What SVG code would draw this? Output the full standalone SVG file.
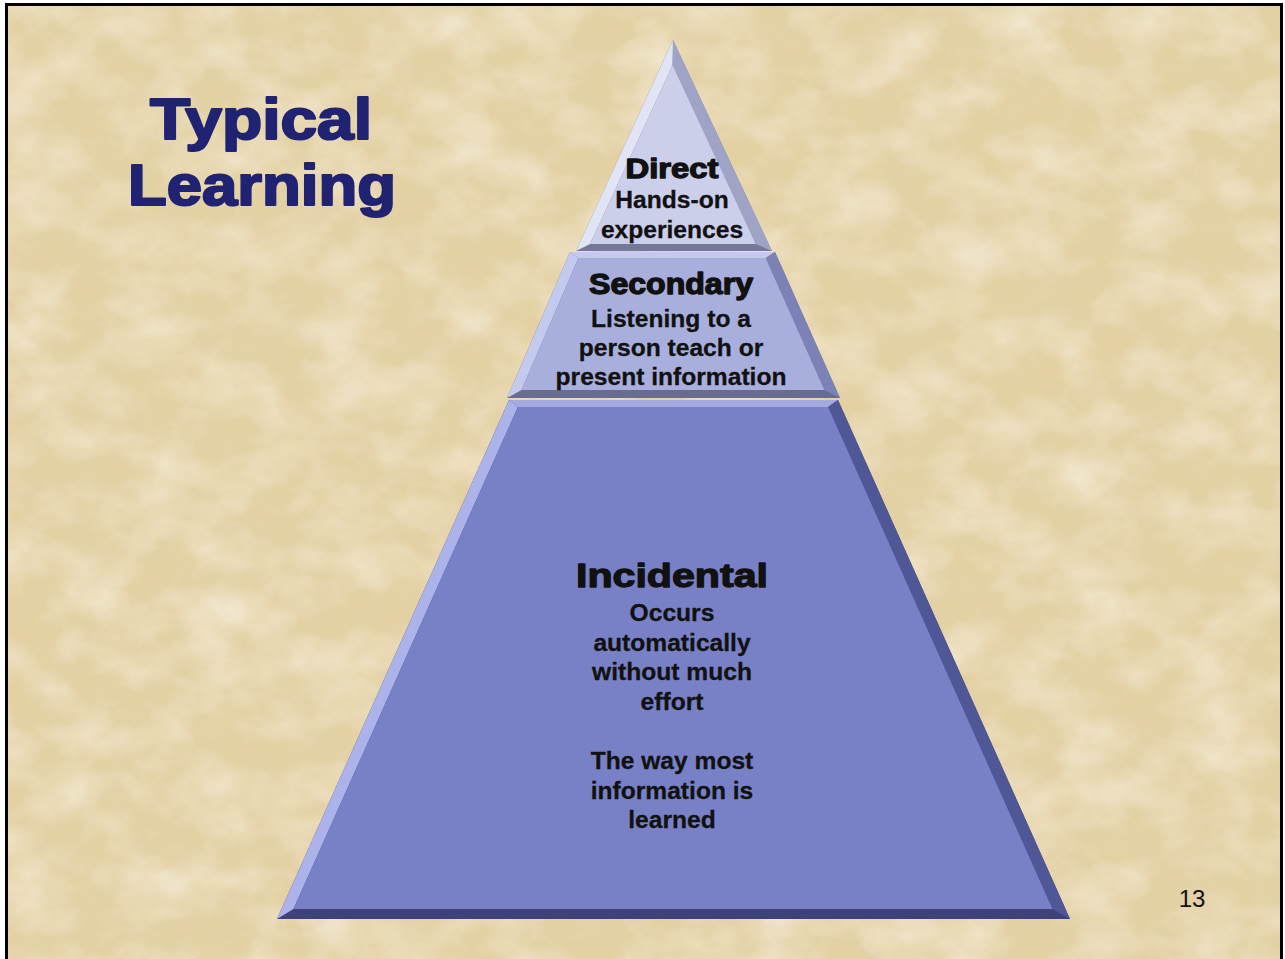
<svg xmlns="http://www.w3.org/2000/svg" width="1285" height="959" viewBox="0 0 1285 959">
<defs>
<filter id="paperLight" x="0" y="0" width="100%" height="100%">
<feTurbulence type="fractalNoise" baseFrequency="0.016 0.022" numOctaves="4" seed="7"/>
<feColorMatrix type="matrix" values="0 0 0 0 0.96  0 0 0 0 0.92  0 0 0 0 0.82  1.5 0 0 0 -0.55"/>
</filter>
<filter id="paperDark" x="0" y="0" width="100%" height="100%">
<feTurbulence type="fractalNoise" baseFrequency="0.04 0.05" numOctaves="3" seed="21"/>
<feColorMatrix type="matrix" values="0 0 0 0 0.82  0 0 0 0 0.70  0 0 0 0 0.48  0 1.4 0 0 -0.6"/>
</filter>
<style>
.title{font-family:"Liberation Sans",Arial,sans-serif;font-weight:bold;font-size:58px;fill:#202272;stroke:#202272;stroke-width:2.2;stroke-linejoin:round;text-anchor:middle}
.head{font-family:"Liberation Sans",Arial,sans-serif;font-weight:bold;fill:#111;stroke:#111;stroke-width:1.3;stroke-linejoin:round;text-anchor:middle}
.body{font-family:"Liberation Sans",Arial,sans-serif;font-weight:bold;font-size:24.6px;fill:#111;stroke:#111;stroke-width:0.3;text-anchor:middle}
.num{font-family:"Liberation Sans",Arial,sans-serif;font-size:24px;fill:#111;text-anchor:middle}
</style>
</defs>
<rect x="0" y="0" width="1285" height="959" fill="#ffffff"/>
<rect x="7" y="5" width="1274" height="970" fill="#e3d0a3"/>
<rect x="7" y="5" width="1274" height="970" filter="url(#paperLight)" opacity="0.75"/>
<rect x="7" y="5" width="1274" height="970" filter="url(#paperDark)" opacity="0.45"/>
<rect x="6.5" y="4.5" width="1275" height="980" fill="none" stroke="#000" stroke-width="3"/>

<g id="title">
<text class="title" x="261" y="139" textLength="222" lengthAdjust="spacingAndGlyphs">Typical</text>
<text class="title" x="262" y="205" textLength="268" lengthAdjust="spacingAndGlyphs">Learning</text>
</g>

<g id="tier-incidental">
<polygon points="509,400 838,400 1070,919 277,919" fill="#3d4379"/>
<polygon points="509,400 838,400 828.1,407 517.9,407" fill="#a3aae0"/>
<polygon points="509,400 277,919 293.5,909 517.9,407" fill="#abb3ea"/>
<polygon points="838,400 1070,919 1052.5,909 828.1,407" fill="#4f5797"/>
<polygon points="517.9,407 828.1,407 1052.5,909 293.5,909" fill="#7981c6"/>
<text class="head" x="672" y="587" font-size="34" textLength="192" lengthAdjust="spacingAndGlyphs">Incidental</text>
<text class="body" x="672" y="621">Occurs</text>
<text class="body" x="672" y="651">automatically</text>
<text class="body" x="672" y="680">without much</text>
<text class="body" x="672" y="710">effort</text>
<text class="body" x="672" y="769">The way most</text>
<text class="body" x="672" y="799">information is</text>
<text class="body" x="672" y="828">learned</text>
</g>

<g id="tier-secondary">
<polygon points="570,252 775,252 840,398 507,398" fill="#686d8f"/>
<polygon points="570,252 775,252 765.7,258 578.4,258" fill="#c6cae9"/>
<polygon points="570,252 507,398 521.5,390 578.4,258" fill="#c4c9ee"/>
<polygon points="775,252 840,398 824.4,390 765.7,258" fill="#7c82b6"/>
<polygon points="578.4,258 765.7,258 824.4,390 521.5,390" fill="#a9afdc"/>
<text class="head" x="671" y="294" font-size="29" textLength="164" lengthAdjust="spacingAndGlyphs">Secondary</text>
<text class="body" x="671" y="327">Listening to a</text>
<text class="body" x="671" y="356">person teach or</text>
<text class="body" x="671" y="385">present information</text>
</g>

<g id="tier-direct">
<polygon points="673,40 772,251 576,251" fill="#74789a"/>
<polygon points="673,40 576,251 590.2,244 672.6,64.9" fill="#e1e4f5"/>
<polygon points="673,40 772,251 755.8,244 672.6,64.9" fill="#9fa3c6"/>
<polygon points="672.6,64.9 755.8,244 590.2,244" fill="#cbcfea"/>
<text class="head" x="672" y="178" font-size="28" textLength="93" lengthAdjust="spacingAndGlyphs">Direct</text>
<text class="body" x="672" y="208">Hands-on</text>
<text class="body" x="672" y="238">experiences</text>
</g>

<g id="page-number">
<text class="num" x="1192" y="907">13</text>
</g>
</svg>
